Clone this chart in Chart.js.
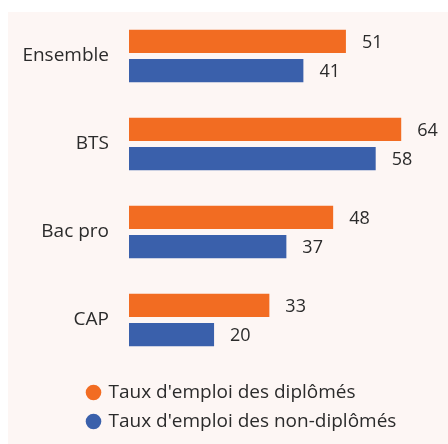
<!DOCTYPE html>
<html>
<head>
<meta charset="utf-8">
<script src="https://cdn.jsdelivr.net/npm/chart.js@4"></script>
<style>
  body { margin: 0; background: #fff; }
  #wrap { position: absolute; left: 8px; top: 12px; width: 440px; height: 432px; background: #fdf6f4; }
</style>
</head>
<body>
<div id="wrap"><canvas id="myChart" width="440" height="432"></canvas></div>
<script>
var categories = ['Ensemble', 'BTS', 'Bac pro', 'CAP'];
var diplomes = [51, 64, 48, 33];
var nonDiplomes = [41, 58, 37, 20];
var seriesLabels = ["Taux d'emploi des diplômés", "Taux d'emploi des non-diplômés"];

var FONT = "'Open Sans', sans-serif";

// valeurs écrites au bout des barres
var valueLabels = {
  id: 'valueLabels',
  afterDatasetsDraw: function(chart) {
    var ctx = chart.ctx;
    ctx.save();
    ctx.font = '18px ' + FONT;
    ctx.fillStyle = '#2b2b2b';
    ctx.textAlign = 'left';
    ctx.textBaseline = 'middle';
    chart.data.datasets.forEach(function(ds, i) {
      chart.getDatasetMeta(i).data.forEach(function(bar, j) {
        ctx.fillText(ds.data[j], bar.x + 16, bar.y + 1);
      });
    });
    ctx.restore();
  }
};

// place la légende à gauche, un peu plus bas
var moveLegend = {
  id: 'moveLegend',
  afterLayout: function(chart) {
    var lg = chart.legend;
    lg.left = 70;
    lg.top = 361;
    lg.bottom = lg.top + lg.height;
  }
};

var ctx = document.getElementById('myChart').getContext('2d');
var myChart = new Chart(ctx, {
  type: 'bar',
  data: {
    labels: categories,
    datasets: [{
      label: seriesLabels[0],
      data: diplomes,
      backgroundColor: '#f26c22'
    }, {
      label: seriesLabels[1],
      data: nonDiplomes,
      backgroundColor: '#3a60ab'
    }]
  },
  options: {
    indexAxis: 'y',
    responsive: false,
    animation: false,
    categoryPercentage: 0.66,
    barPercentage: 0.8,
    layout: { padding: { bottom: 12 } },
    scales: {
      x: { display: false, min: 0, max: 75 },
      y: {
        grid: { display: false, drawTicks: false },
        border: { display: false },
        ticks: { color: '#2b2b2b', padding: 20, font: { family: FONT, size: 19 } },
        afterFit: function(s) {
          s.width = 121;
          s.paddingTop = 0;
          s.paddingBottom = 0;
        }
      }
    },
    plugins: {
      tooltip: { enabled: false },
      legend: {
        position: 'bottom',
        align: 'start',
        labels: {
          usePointStyle: true,
          pointStyle: 'circle',
          boxWidth: 11,
          boxHeight: 11,
          padding: 10,
          color: '#2b2b2b',
          font: { family: FONT, size: 19 }
        }
      }
    }
  },
  plugins: [valueLabels, moveLegend]
});
</script>
</body>
</html>
